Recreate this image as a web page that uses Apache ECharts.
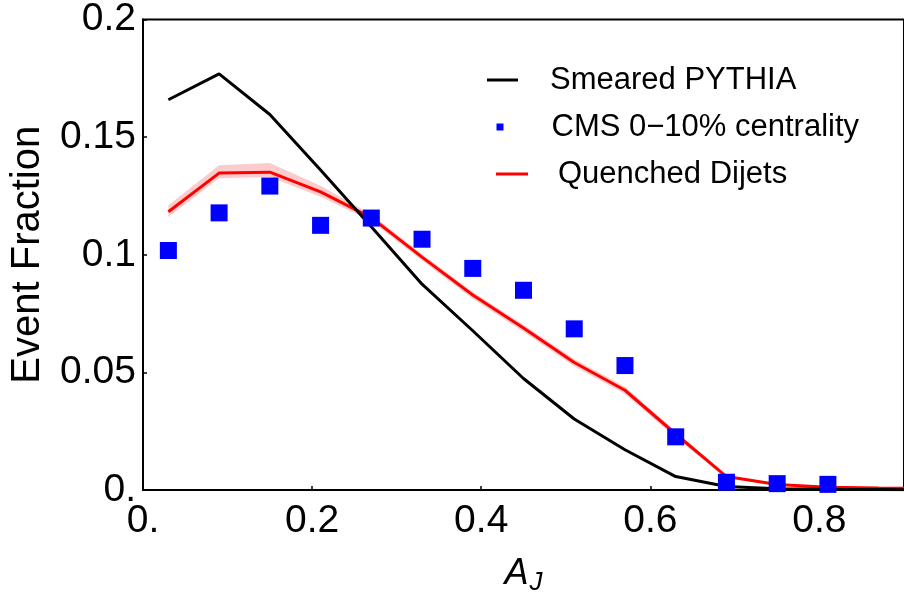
<!DOCTYPE html>
<html>
<head>
<meta charset="utf-8">
<script src="https://cdn.jsdelivr.net/npm/echarts@6/dist/echarts.min.js"></script>
<style>
html,body{margin:0;padding:0;background:#fff;}
#main{width:904px;height:601px;}
</style>
</head>
<body>
<div id="main"></div>
<script>
// A_J bin centres
const xBins = [0.03, 0.09, 0.15, 0.21, 0.27, 0.33, 0.39, 0.45, 0.51, 0.57, 0.63, 0.69, 0.75, 0.81, 0.87, 0.93];
const pythia = [0.1659, 0.1769, 0.1596, 0.1360, 0.1119, 0.0875, 0.0677, 0.0474, 0.0302, 0.0171, 0.0057, 0.0015, 0.0005, 0.0003, 0.0002, 0.0001];
const quenched = [0.1183, 0.1347, 0.1351, 0.1267, 0.1158, 0.0990, 0.0829, 0.0689, 0.0542, 0.0424, 0.0238, 0.0057, 0.0023, 0.0012, 0.0008, 0.0007];
const quenchedHigh = [0.1210, 0.1380, 0.1390, 0.1293, 0.1172, 0.1002, 0.0842, 0.0702, 0.0557, 0.0439, 0.0250, 0.0063, 0.0027, 0.0015, 0.0010, 0.0009];
const quenchedLow = [0.1160, 0.1325, 0.1330, 0.1247, 0.1143, 0.0976, 0.0813, 0.0673, 0.0526, 0.0408, 0.0223, 0.0051, 0.0020, 0.0010, 0.0006, 0.0005];
const cmsX = [0.03, 0.09, 0.15, 0.21, 0.27, 0.33, 0.39, 0.45, 0.51, 0.57, 0.63, 0.69, 0.75, 0.81];
const cms = [0.1018, 0.1178, 0.1292, 0.1125, 0.1156, 0.1066, 0.0942, 0.0849, 0.0685, 0.0529, 0.0226, 0.0033, 0.0027, 0.0024];
const seriesNames = ['Smeared PYTHIA', 'CMS 0\u221210% centrality', 'Quenched Dijets'];

const FONT = 'Liberation Sans';
const chart = echarts.init(document.getElementById('main'), null, {renderer: 'canvas'});

const pair = (xs, ys) => ys.map((y, i) => [xs[i], y]);

const option = {
  backgroundColor: '#fff',
  animation: false,
  grid: {left: 142, top: 19, right: -5, bottom: 107.5, show: true, borderColor: '#000', borderWidth: 2, backgroundColor: 'transparent'},
  legend: [
    {data: [seriesNames[0]], left: 487, top: 57, orient: 'vertical', padding: 0,
     itemWidth: 31, itemHeight: 3, icon: 'rect',
     textStyle: {fontFamily: FONT, fontSize: 31, color: '#000', lineHeight: 36, padding: [0, 0, 10, 27]}},
    {data: [seriesNames[1]], left: 496.5, top: 106, orient: 'vertical', padding: 0,
     itemWidth: 7, itemHeight: 7, icon: 'rect',
     textStyle: {fontFamily: FONT, fontSize: 31, color: '#000', lineHeight: 36, padding: [0, 0, 6, 43]}},
    {data: [seriesNames[2]], left: 496, top: 153, orient: 'vertical', padding: 0,
     itemWidth: 32, itemHeight: 3, icon: 'rect',
     textStyle: {fontFamily: FONT, fontSize: 31, color: '#000', lineHeight: 36, padding: [0, 0, 6, 25]}}
  ],
  xAxis: {
    type: 'value', min: 0, max: 0.9, interval: 0.2,
    name: '{a|A}{j|J}', nameLocation: 'middle', nameGap: 62,
    nameTextStyle: {rich: {
      a: {fontFamily: FONT, fontSize: 36, fontStyle: 'italic', color: '#000'},
      j: {fontFamily: FONT, fontSize: 26, fontStyle: 'italic', color: '#000', padding: [18, 0, 0, 1]}
    }},
    axisLine: {show: true, lineStyle: {color: '#000', width: 2}},
    axisTick: {show: true, inside: true, length: 4, lineStyle: {color: '#000', width: 1.5}},
    axisLabel: {fontFamily: FONT, fontSize: 39, color: '#000', margin: 12, showMaxLabel: false,
      formatter: v => v === 0 ? '0.' : String(+v.toFixed(1))},
    splitLine: {show: false}
  },
  yAxis: {
    type: 'value', min: 0, max: 0.2, interval: 0.05,
    name: 'Event Fraction', nameLocation: 'middle', nameGap: 95,
    nameTextStyle: {fontFamily: FONT, fontSize: 40, color: '#000'},
    axisLine: {show: true, lineStyle: {color: '#000', width: 2}},
    axisTick: {show: true, inside: true, length: 4, lineStyle: {color: '#000', width: 1.5}},
    axisLabel: {fontFamily: FONT, fontSize: 39, color: '#000', margin: 7,
      formatter: v => v === 0 ? '0.' : String(+v.toFixed(2))},
    splitLine: {show: false}
  },
  series: [
    {
      name: 'band', type: 'custom', z: 1, silent: true,
      data: xBins.map((x, i) => [x, quenchedLow[i], quenchedHigh[i]]),
      renderItem: function (params, api) {
        if (params.dataIndex !== 0) return null;
        const pts = [];
        for (let i = 0; i < xBins.length; i++) pts.push(api.coord([xBins[i], quenchedHigh[i]]));
        for (let i = xBins.length - 1; i >= 0; i--) pts.push(api.coord([xBins[i], quenchedLow[i]]));
        return {type: 'polygon', shape: {points: pts}, style: {fill: '#fbcccc', stroke: null}};
      }
    },
    {
      name: seriesNames[2], type: 'line', z: 3, data: pair(xBins, quenched),
      symbol: 'none', color: '#ff0000', lineStyle: {color: '#ff0000', width: 3}
    },
    {
      name: seriesNames[0], type: 'line', z: 4, data: pair(xBins, pythia),
      symbol: 'none', color: '#000', lineStyle: {color: '#000', width: 3}
    },
    {
      name: seriesNames[1], type: 'scatter', z: 5, data: pair(cmsX, cms),
      symbol: 'rect', symbolSize: 17, color: '#0000ff', itemStyle: {color: '#0000ff', opacity: 1}
    }
  ]
};
chart.setOption(option);
</script>
</body>
</html>
